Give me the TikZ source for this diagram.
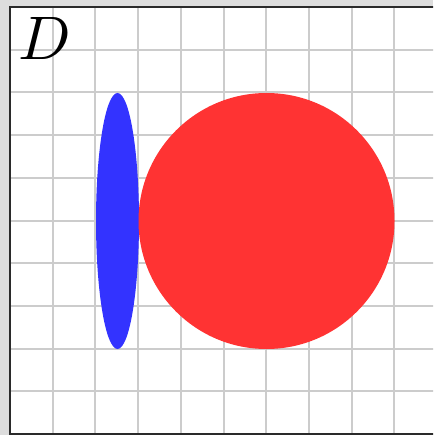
\documentclass[tikz,border=0pt]{standalone}
\definecolor{bggray}{HTML}{DDDDDD}
\definecolor{gridgray}{HTML}{CCCCCC}
\definecolor{framec}{HTML}{2A2A2A}
\definecolor{ellblue}{HTML}{3333FF}
\definecolor{circred}{HTML}{FF3333}
\tikzset{
  gridline/.style={gridgray, line width=2pt},
  framebox/.style={draw=framec, line width=2pt, fill=white},
}
\begin{document}
\begin{tikzpicture}[x=1pt,y=-1pt]
\useasboundingbox (0,0) rectangle (433,435);
\clip (0,0) rectangle (433,435);
\fill[bggray] (0,0) rectangle (433,435);
\fill[white] (10,7) rectangle (437,434);
\foreach \i in {1,...,9} {
  \draw[gridline] ({10+42.7*\i},7) -- ({10+42.7*\i},434);
  \draw[gridline] (10,{7+42.7*\i}) -- (437,{7+42.7*\i});
}
\fill[ellblue] (117.5,221) ellipse [x radius=21.5pt, y radius=128pt];
\fill[circred] (266.5,221) circle [radius=128pt];
\draw[framec, line width=2pt] (10,7) rectangle (437,434);
\node[anchor=base west, inner sep=0pt] (lbl) at (18,60) {\scalebox{6.15}{$D$}};
\end{tikzpicture}
\end{document}
